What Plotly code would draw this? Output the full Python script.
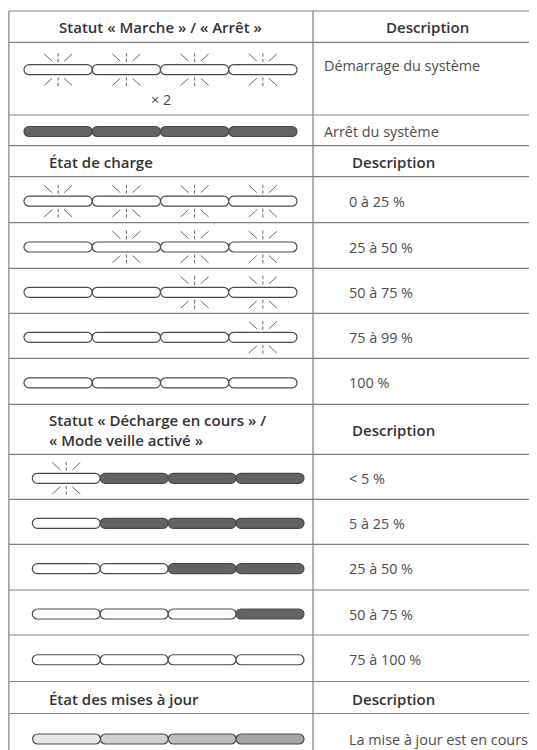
import plotly.graph_objects as go

# ---------------- data ----------------
section_titles = [
    "Statut « Marche » / « Arrêt »",
    "État de charge",
    "Statut « Décharge en cours » /<br>« Mode veille activé »",
    "État des mises à jour",
]
description_header = "Description"

row_descriptions = [
    "Démarrage du système", "Arrêt du système",
    "0 à 25 %", "25 à 50 %", "50 à 75 %", "75 à 99 %", "100 %",
    "< 5 %", "5 à 25 %", "25 à 50 %", "50 à 75 %", "75 à 100 %",
    "La mise à jour est en cours",
]
row_section = [0, 0, 1, 1, 1, 1, 1, 2, 2, 2, 2, 2, 3]
row_notes = ["× 2", "", "", "", "", "", "", "", "", "", "", "", ""]
row_leds = [
    ["blink", "blink", "blink", "blink"],
    ["dark", "dark", "dark", "dark"],
    ["blink", "blink", "blink", "blink"],
    ["off", "blink", "blink", "blink"],
    ["off", "off", "blink", "blink"],
    ["off", "off", "off", "blink"],
    ["off", "off", "off", "off"],
    ["blink", "dark", "dark", "dark"],
    ["off", "dark", "dark", "dark"],
    ["off", "off", "dark", "dark"],
    ["off", "off", "off", "dark"],
    ["off", "off", "off", "off"],
    ["g1", "g2", "g3", "g4"],
]

# ---------------- styles / layout ----------------
PAGE_W, PAGE_H = 537, 750
BODY_MARGIN = 8  # browser default body margin
LED_FILL = {"blink": "#ffffff", "off": "#ffffff", "dark": "#636366",
            "g1": "#e6e6e7", "g2": "#d0d0d1", "g3": "#bcbcbd", "g4": "#a5a5a7"}
LED_LINE = "#4a4a4c"
RAY = "#6a6a6a"
GRID = "#808080"
TXT = "#4d4d4d"
HDR = "#333333"
FONT = "'Open Sans', 'Noto Sans', sans-serif"
BODY_SIZE = 14.4
HDR_SIZE = 15

TOP = 11.0
X_LEFT, X_DIV, X_RIGHT = 8.9, 313.0, 545.0
header_heights = [31.3, 31.0, 50.0, 32.0]
row_heights = [72.7, 30.7, 46.0, 45.6, 45.0, 45.0, 46.0, 45.0, 45.0, 45.7, 45.0, 46.5, 48.0]
led_span = [(24.0, 297.0), (24.0, 297.0), (32.3, 304.0), (32.6, 304.0)]
LED_H = 10.0

fig = go.Figure()
shapes = []
annotations = []


def capsule(x0, x1, cy, h):
    r = h / 2.0
    k = 0.5523 * r
    return (f"M {x0 + r},{cy - r} L {x1 - r},{cy - r} "
            f"C {x1 - r + k},{cy - r} {x1},{cy - k} {x1},{cy} "
            f"C {x1},{cy + k} {x1 - r + k},{cy + r} {x1 - r},{cy + r} "
            f"L {x0 + r},{cy + r} "
            f"C {x0 + r - k},{cy + r} {x0},{cy + k} {x0},{cy} "
            f"C {x0},{cy - k} {x0 + r - k},{cy - r} {x0 + r},{cy - r} Z")


def line(x0, y0, x1, y1, color, width):
    shapes.append(dict(type="line", xref="x", yref="y", x0=x0, y0=y0, x1=x1, y1=y1,
                       line=dict(color=color, width=width), layer="above"))


def rays(cx, cy):
    for s in (-1, 1):  # above / below
        line(cx, cy + s * 16.5, cx, cy + s * 13.0, RAY, 1)
        line(cx, cy + s * 11.0, cx, cy + s * 7.5, RAY, 1)
        line(cx - 14.0, cy + s * 15.8, cx - 6.0, cy + s * 8.5, RAY, 1)
        line(cx + 14.0, cy + s * 15.8, cx + 6.0, cy + s * 8.5, RAY, 1)


def text(x, y, s, size, color, anchor="left", bold=False):
    annotations.append(dict(x=x, y=y, xref="x", yref="y", text=s, showarrow=False,
                            xanchor=anchor, yanchor="middle", align="left",
                            font=dict(family=FONT, size=size, color=color,
                                      weight=600 if bold else 400)))


boundaries = [TOP]
y = TOP
row_idx = 0
for sec in range(4):
    h = header_heights[sec]
    hc = y + h / 2.0
    if sec == 0:
        text((X_LEFT + X_DIV) / 2.0, hc, section_titles[sec], HDR_SIZE, HDR, "center", True)
        text((X_DIV + 541) / 2.0, hc, description_header, HDR_SIZE, HDR, "center", True)
    else:
        text(46.7, hc + 1.0, section_titles[sec], HDR_SIZE, HDR, "left", True)
        text(349.5, hc + 1.0, description_header, HDR_SIZE, HDR, "left", True)
    y += h
    boundaries.append(y)
    while row_idx < len(row_section) and row_section[row_idx] == sec:
        rh = row_heights[row_idx]
        rc = y + rh / 2.0
        if row_idx == 0:
            cy = y + 27.4
            ty = y + 23.4
        elif row_idx == 1:
            cy = y + 16.5
            ty = y + 16.7
        else:
            cy = rc + 1.5
            ty = rc + 1.5
        xs, xe = led_span[sec]
        n = len(row_leds[row_idx])
        wled = (xe - xs) / n
        for i, st in enumerate(row_leds[row_idx]):
            x0 = xs + i * wled
            x1 = x0 + wled
            shapes.append(dict(type="path", xref="x", yref="y", path=capsule(x0, x1, cy, LED_H),
                               fillcolor=LED_FILL[st], line=dict(color=LED_LINE, width=1.2),
                               layer="above"))
            if st == "blink":
                rays((x0 + x1) / 2.0, cy)
        if row_notes[row_idx]:
            text((xs + xe) / 2.0, cy + 29.5, row_notes[row_idx], BODY_SIZE, TXT, "center")
        dx = 321.7 if sec == 0 else 347.0
        text(dx, ty, row_descriptions[row_idx], BODY_SIZE, TXT, "left")
        y += rh
        boundaries.append(y)
        row_idx += 1

for b in boundaries:
    line(X_LEFT, b, X_RIGHT, b, GRID, 1.2)
line(X_LEFT, TOP, X_LEFT, boundaries[-1], GRID, 1.2)
line(X_DIV, TOP, X_DIV, boundaries[-1], GRID, 1.2)

# the page body has an 8px margin: make the figure fill the rest of the window
# and let the axes map data units to page pixels
fig.update_layout(
    width=PAGE_W - BODY_MARGIN, height=PAGE_H - BODY_MARGIN,
    margin=dict(l=0, r=0, t=0, b=0),
    paper_bgcolor="white", plot_bgcolor="white",
    xaxis=dict(range=[BODY_MARGIN, PAGE_W], visible=False, fixedrange=True),
    yaxis=dict(range=[PAGE_H, BODY_MARGIN], visible=False, fixedrange=True),
    shapes=shapes, annotations=annotations, showlegend=False,
)
fig.write_html("out.html", config={"displayModeBar": False})
